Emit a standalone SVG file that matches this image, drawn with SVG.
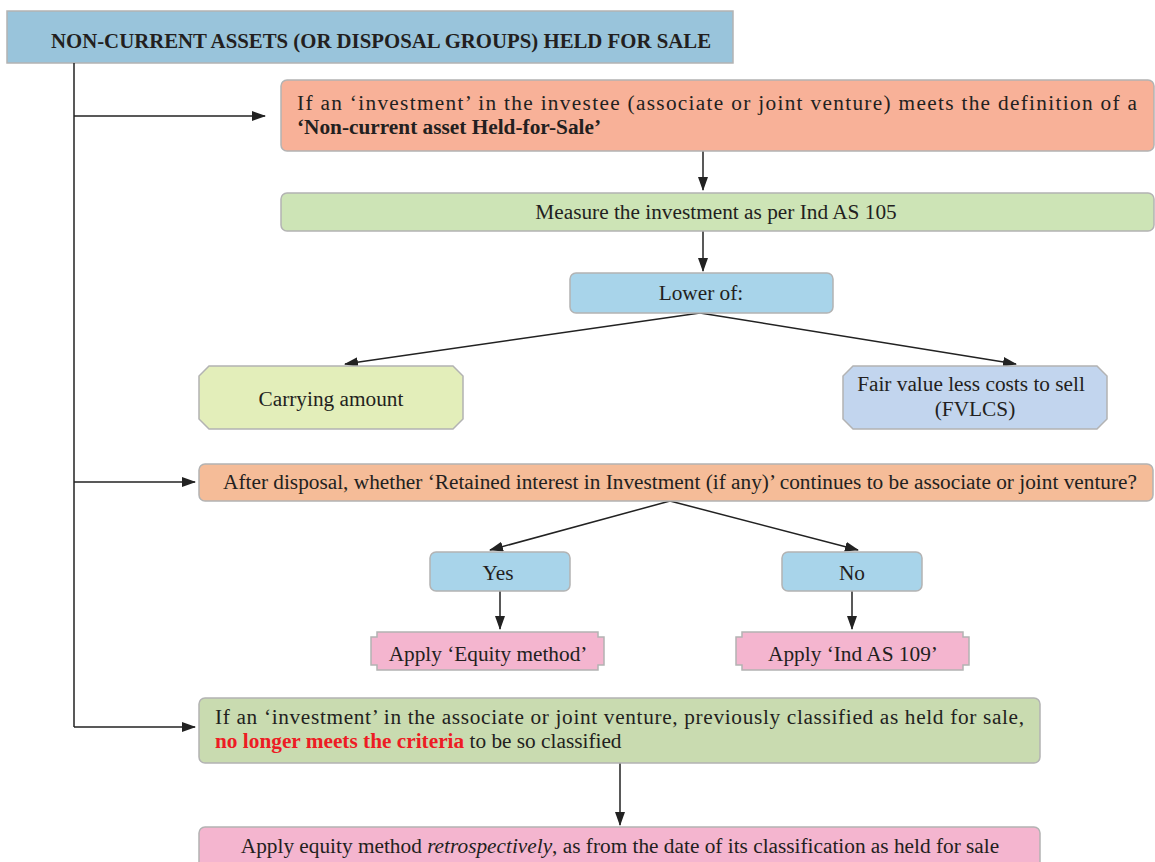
<svg xmlns="http://www.w3.org/2000/svg" width="1155" height="862" viewBox="0 0 1155 862">
<defs>
<marker id="ah" markerWidth="14" markerHeight="10" refX="13" refY="5" orient="auto" markerUnits="userSpaceOnUse">
<path d="M0,0 L14,5 L0,10 Z" fill="#222"/>
</marker>
<style>
.t{font-family:"Liberation Serif","DejaVu Serif",serif;font-size:21.3px;fill:#231f20}
.c{text-anchor:middle}
.b{font-weight:bold}
.box{stroke:#b3b3b3;stroke-width:1.5}
.ln{stroke:#222;stroke-width:1.5;fill:none}
</style>
</defs>
<rect width="1155" height="862" fill="#fff"/>

<g id="header">
<rect class="box" x="7" y="11" width="726" height="52" fill="#99c4db"/>
<text class="t b c" x="381" y="48" style="font-size:20.8px">NON-CURRENT ASSETS (OR DISPOSAL GROUPS) HELD FOR SALE</text>
</g>

<g id="connectors">
<line class="ln" x1="74" y1="63" x2="74" y2="727"/>
<line class="ln" x1="74" y1="116" x2="265" y2="116" marker-end="url(#ah)"/>
<line class="ln" x1="703" y1="151" x2="703" y2="190" marker-end="url(#ah)"/>
<line class="ln" x1="703" y1="231" x2="703" y2="271" marker-end="url(#ah)"/>
<line class="ln" x1="700" y1="313" x2="345" y2="364" marker-end="url(#ah)"/>
<line class="ln" x1="700" y1="313" x2="1016" y2="364" marker-end="url(#ah)"/>
<line class="ln" x1="74" y1="482" x2="195" y2="482" marker-end="url(#ah)"/>
<line class="ln" x1="670" y1="501" x2="490" y2="550" marker-end="url(#ah)"/>
<line class="ln" x1="670" y1="501" x2="858" y2="550" marker-end="url(#ah)"/>
<line class="ln" x1="500" y1="591" x2="500" y2="629" marker-end="url(#ah)"/>
<line class="ln" x1="852" y1="591" x2="852" y2="629" marker-end="url(#ah)"/>
<line class="ln" x1="74" y1="727" x2="195" y2="727" marker-end="url(#ah)"/>
<line class="ln" x1="620" y1="763" x2="620" y2="825" marker-end="url(#ah)"/>
</g>

<g id="n1">
<rect class="box" x="281" y="80" width="873" height="71" rx="6" fill="#f8b198"/>
<text class="t" x="297" y="110" textLength="840" lengthAdjust="spacing">If an ‘investment’ in the investee (associate or joint venture) meets the definition of a</text>
<text class="t b" x="297" y="134">‘Non-current asset Held-for-Sale’</text>
</g>

<g id="n2">
<rect class="box" x="281" y="193" width="873" height="38" rx="6" fill="#cde4b6"/>
<text class="t c" x="716" y="219">Measure the investment as per Ind AS 105</text>
</g>

<g id="n3">
<rect class="box" x="570" y="273" width="263" height="40" rx="6" fill="#a8d4ea"/>
<text class="t c" x="701" y="300">Lower of:</text>
</g>

<g id="n4">
<path class="box" d="M209,366 L453,366 L463,376 L463,419 L453,429 L209,429 L199,419 L199,376 Z" fill="#e3eeba"/>
<text class="t c" x="331" y="406">Carrying amount</text>
</g>

<g id="n5">
<path class="box" d="M853,366 L1097,366 L1107,376 L1107,419 L1097,429 L853,429 L843,419 L843,376 Z" fill="#c2d5ee"/>
<text class="t c" x="971" y="391">Fair value less costs to sell</text>
<text class="t c" x="975" y="416">(FVLCS)</text>
</g>

<g id="n6">
<rect class="box" x="199" y="464" width="954" height="37" rx="6" fill="#f5bc98"/>
<text class="t c" x="680" y="489">After disposal, whether ‘Retained interest in Investment (if any)’ continues to be associate or joint venture?</text>
</g>

<g id="n7">
<rect class="box" x="430" y="552" width="140" height="39" rx="6" fill="#a8d4ea"/>
<text class="t c" x="498" y="580">Yes</text>
</g>

<g id="n8">
<rect class="box" x="782" y="552" width="140" height="39" rx="6" fill="#a8d4ea"/>
<text class="t c" x="852" y="580">No</text>
</g>

<g id="n9">
<path class="box" d="M377,632 L598,632 L598,637 L604,637 L604,665 L598,665 L598,670 L377,670 L377,665 L371,665 L371,637 L377,637 Z" fill="#f4b5cf"/>
<text class="t c" x="488" y="661">Apply ‘Equity method’</text>
</g>

<g id="n10">
<path class="box" d="M742,632 L963,632 L963,637 L969,637 L969,665 L963,665 L963,670 L742,670 L742,665 L736,665 L736,637 L742,637 Z" fill="#f4b5cf"/>
<text class="t c" x="853" y="661">Apply ‘Ind AS 109’</text>
</g>

<g id="n11">
<rect class="box" x="199" y="698" width="841" height="65" rx="6" fill="#c9dbb0"/>
<text class="t" x="215" y="724" textLength="809" lengthAdjust="spacing">If an ‘investment’ in the associate or joint venture, previously classified as held for sale,</text>
<text class="t" x="215" y="748"><tspan class="b" style="fill:#ed1c24">no longer meets the criteria</tspan> to be so classified</text>
</g>

<g id="n12">
<rect class="box" x="199" y="827" width="841" height="45" rx="6" fill="#f4b5cf"/>
<text class="t c" x="620" y="853">Apply equity method <tspan font-style="italic">retrospectively</tspan>, as from the date of its classification as held for sale</text>
</g>
</svg>
